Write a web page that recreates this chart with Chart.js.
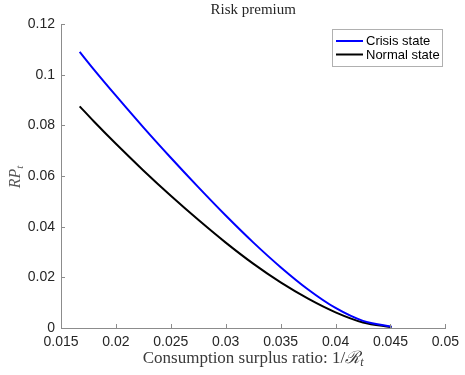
<!DOCTYPE html>
<html>
<head>
<meta charset="utf-8">
<script src="https://cdn.jsdelivr.net/npm/chart.js@4/dist/chart.umd.min.js"></script>
<style>
  html, body { margin: 0; padding: 0; background: #fff; }
  #wrap { width: 465px; height: 375px; }
</style>
</head>
<body>
<div id="wrap"><canvas id="rpChart" width="465" height="375"></canvas></div>
<script>
// consumption surplus ratio grid
const surplus = [0.0167, 0.018, 0.020, 0.0225, 0.025, 0.0275, 0.030, 0.0325, 0.035, 0.0375, 0.040, 0.0425, 0.0451];
const crisisRP = [0.109, 0.1020, 0.0917, 0.0792, 0.0672, 0.0556, 0.0444, 0.0338, 0.0240, 0.0152, 0.0079, 0.0028, 0.0005];
const normalRP = [0.0875, 0.0815, 0.0727, 0.0622, 0.0522, 0.0427, 0.0337, 0.0254, 0.0180, 0.0116, 0.0062, 0.0022, 0.0003];
const xTicks = [0.015, 0.02, 0.025, 0.03, 0.035, 0.04, 0.045, 0.05];
const yTicks = [0, 0.02, 0.04, 0.06, 0.08, 0.1, 0.12];
const seriesNames = ['Crisis state', 'Normal state'];
const seriesColors = ['#0000ff', '#000000'];

const axisGray = '#8c8c8c';
const textDark = '#262626';
const serif = '"Liberation Serif", "DejaVu Serif", serif';
const sans = '"Liberation Sans", Arial, sans-serif';

function toPoints(ys) {
  return surplus.map((x, i) => ({ x: x, y: ys[i] }));
}

// inward ticks, titles and legend box drawn in matlab style
const decor = {
  id: 'decor',
  afterDraw(chart) {
    const c = chart.ctx;
    const area = chart.chartArea;
    const xs = chart.scales.x, ys = chart.scales.y;
    c.save();
    c.strokeStyle = axisGray;
    c.lineWidth = 1;
    c.beginPath();
    xTicks.forEach(v => {
      const px = Math.round(xs.getPixelForValue(v)) + 0.5;
      c.moveTo(px, area.bottom);
      c.lineTo(px, area.bottom - 4);
    });
    yTicks.forEach(v => {
      const py = Math.round(ys.getPixelForValue(v)) + 0.5;
      c.moveTo(area.left, py);
      c.lineTo(area.left + 4, py);
    });
    c.stroke();

    // title
    c.fillStyle = textDark;
    c.font = '15px ' + serif;
    c.textAlign = 'center';
    c.textBaseline = 'middle';
    const mid = (area.left + area.right) / 2;
    c.fillText('Risk premium', mid, 10);

    // x axis title with subscript
    const main = 'Consumption surplus ratio: 1/';
    c.fillStyle = '#3a3a3a';
    c.font = '17px ' + serif;
    const w1 = c.measureText(main).width;
    c.font = 'italic 17px ' + serif;
    const w2 = c.measureText('\u211B').width;
    c.font = 'italic 12px ' + serif;
    const w3 = c.measureText('t').width;
    let x0 = mid - (w1 + w2 + w3) / 2;
    c.textAlign = 'left';
    c.textBaseline = 'alphabetic';
    c.font = '17px ' + serif;
    c.fillText(main, x0, 363);
    c.font = 'italic 17px ' + serif;
    c.fillText('\u211B', x0 + w1, 363);
    c.font = 'italic 12px ' + serif;
    c.fillText('t', x0 + w1 + w2, 366);

    // y axis title
    c.save();
    c.translate(20, 177);
    c.rotate(-Math.PI / 2);
    c.fillStyle = '#555';
    c.font = 'italic 16px ' + serif;
    const wr = c.measureText('RP').width;
    c.font = 'italic 11px ' + serif;
    const wt = c.measureText('t').width;
    c.font = 'italic 16px ' + serif;
    c.fillText('RP', -(wr + wt) / 2, 0);
    c.font = 'italic 11px ' + serif;
    c.fillText('t', -(wr + wt) / 2 + wr, 3);
    c.restore();

    // legend
    c.fillStyle = '#fff';
    c.fillRect(332, 29, 111, 37);
    c.strokeStyle = '#b0b0b0';
    c.strokeRect(332.5, 29.5, 110, 37);
    c.font = '13px ' + sans;
    c.textBaseline = 'middle';
    seriesNames.forEach((name, i) => {
      const ly = 41 + i * 13.5;
      c.strokeStyle = seriesColors[i];
      c.lineWidth = 2;
      c.beginPath();
      c.moveTo(336, ly);
      c.lineTo(363, ly);
      c.stroke();
      c.fillStyle = '#000';
      c.fillText(name, 366, ly + 0.5);
    });
    c.restore();
  }
};

const ctx = document.getElementById('rpChart').getContext('2d');

new Chart(ctx, {
  type: 'line',
  data: {
    datasets: [
      { label: seriesNames[0], data: toPoints(crisisRP), borderColor: seriesColors[0] },
      { label: seriesNames[1], data: toPoints(normalRP), borderColor: seriesColors[1] }
    ]
  },
  options: {
    responsive: false,
    animation: false,
    layout: { padding: { top: 24, right: 16, left: 0, bottom: 0 } },
    elements: {
      point: { radius: 0 },
      line: { borderWidth: 2, cubicInterpolationMode: 'monotone', fill: false }
    },
    plugins: {
      legend: { display: false },
      title: { display: false },
      tooltip: { enabled: false }
    },
    scales: {
      x: {
        type: 'linear',
        min: 0.015,
        max: 0.05,
        afterBuildTicks: s => { s.ticks = xTicks.map(v => ({ value: v })); },
        afterFit: s => { s.height = 47; },
        grid: { display: false, drawTicks: false },
        border: { display: true, color: axisGray, width: 1 },
        ticks: {
          padding: 6,
          color: textDark,
          font: { family: sans, size: 14 },
          maxRotation: 0,
          callback: v => String(+v.toFixed(4))
        }
      },
      y: {
        min: 0,
        max: 0.12,
        afterBuildTicks: s => { s.ticks = yTicks.map(v => ({ value: v })); },
        afterFit: s => { s.width = 61; },
        grid: { display: false, drawTicks: false },
        border: { display: true, color: axisGray, width: 1 },
        ticks: {
          padding: 6,
          color: textDark,
          font: { family: sans, size: 14 },
          callback: v => String(+v.toFixed(4))
        }
      }
    }
  },
  plugins: [decor]
});
</script>
</body>
</html>
